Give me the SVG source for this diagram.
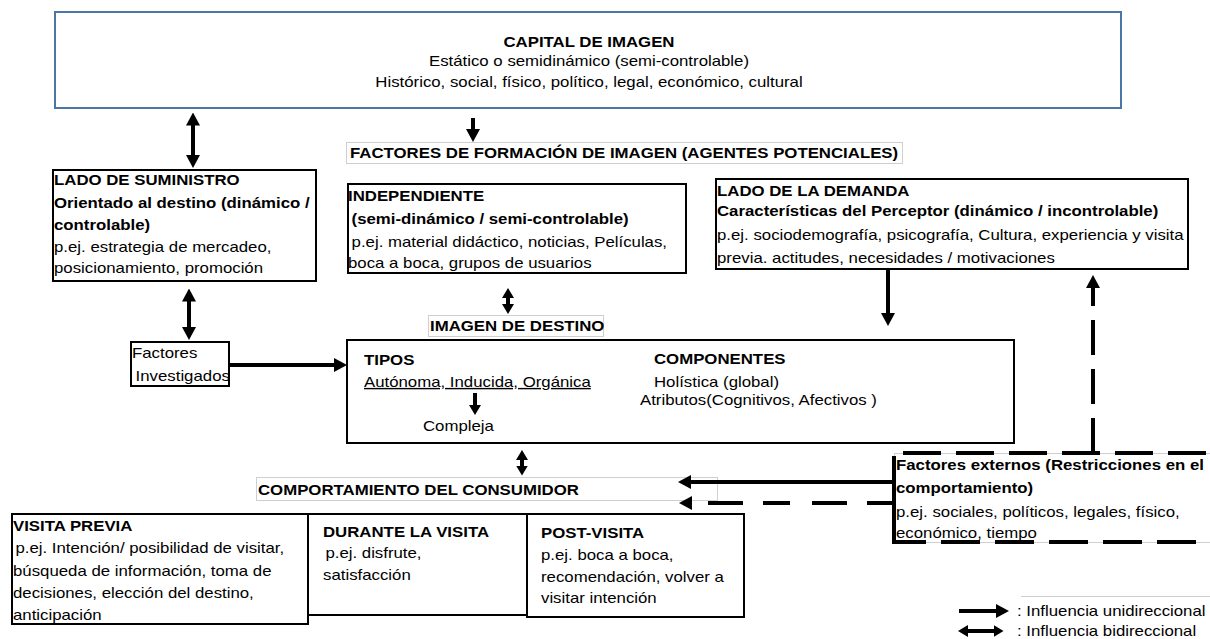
<svg xmlns="http://www.w3.org/2000/svg" width="1210" height="639" viewBox="0 0 1210 639">
  <style>
    text { font-family: "Liberation Sans", Arial, Helvetica, sans-serif; font-size: 14px; fill: #000; }
    .b { font-weight: bold; }
    .node { fill: #fff; stroke: #000; stroke-width: 2; }
    .cap { fill: #fff; stroke: #4a76a8; stroke-width: 2; }
    .lbl { fill: #fff; stroke: #cfcfcf; stroke-width: 1; }
    .ln { fill: none; stroke: #000; stroke-width: 4; }
    .thin { fill: none; stroke: #cfcfcf; stroke-width: 1; }
  </style>
  <defs>
    <marker id="ah" viewBox="0 0 13 14" refX="0.5" refY="7" markerWidth="13" markerHeight="14" markerUnits="userSpaceOnUse" orient="auto-start-reverse">
      <path d="M0,0 L13,7 L0,14 z" fill="#000" stroke="none"/>
    </marker>
    <marker id="as" viewBox="0 0 10 12" refX="0.5" refY="6" markerWidth="10" markerHeight="12" markerUnits="userSpaceOnUse" orient="auto-start-reverse">
      <path d="M0,0 L10,6 L0,12 z" fill="#000" stroke="none"/>
    </marker>
  </defs>

  <!-- image capital -->
  <g id="capital">
    <rect class="cap" x="55" y="12" width="1066" height="96"/>
    <g transform="translate(589 0) scale(1.2 1)" text-anchor="middle">
      <text class="b" x="0" y="47">CAPITAL DE IMAGEN</text>
      <text x="0" y="66">Estático o semidinámico (semi-controlable)</text>
      <text x="0" y="87">Histórico, social, físico, político, legal, económico, cultural</text>
    </g>
  </g>

  <!-- formation factors heading -->
  <g id="factores-formacion">
    <rect class="lbl" x="346.5" y="142.5" width="556" height="21"/>
    <g transform="translate(350 0) scale(1.2 1)">
      <text class="b" x="0" y="158">FACTORES DE FORMACIÓN DE IMAGEN (AGENTES POTENCIALES)</text>
    </g>
  </g>

  <!-- supply side -->
  <g id="lado-suministro">
    <rect class="node" x="53" y="170" width="263" height="111"/>
    <g transform="translate(54 0) scale(1.2 1)">
      <text class="b" x="0" y="185">LADO DE SUMINISTRO</text>
      <text class="b" x="0" y="208">Orientado al destino (dinámico /</text>
      <text class="b" x="0" y="230">controlable)</text>
      <text x="0" y="252">p.ej. estrategia de mercadeo,</text>
      <text x="0" y="273">posicionamiento, promoción</text>
    </g>
  </g>

  <!-- independent agents -->
  <g id="independiente">
    <rect class="node" x="348" y="184" width="338" height="89"/>
    <g transform="translate(348 0) scale(1.2 1)">
      <text class="b" x="0" y="201">INDEPENDIENTE</text>
      <text class="b" x="3" y="224">(semi-dinámico / semi-controlable)</text>
      <text x="3" y="247">p.ej. material didáctico, noticias, Películas,</text>
      <text x="0" y="268">boca a boca, grupos de usuarios</text>
    </g>
  </g>

  <!-- demand side -->
  <g id="lado-demanda">
    <rect class="node" x="716" y="179" width="472" height="90"/>
    <g transform="translate(717 0) scale(1.2 1)">
      <text class="b" x="0" y="196">LADO DE LA DEMANDA</text>
      <text class="b" x="0" y="216">Características del Perceptor (dinámico / incontrolable)</text>
      <text x="0" y="240">p.ej. sociodemografía, psicografía, Cultura, experiencia y visita</text>
      <text x="0" y="263">previa. actitudes, necesidades / motivaciones</text>
    </g>
  </g>

  <!-- investigated factors -->
  <g id="factores-investigados">
    <rect class="node" x="131" y="342" width="98" height="44"/>
    <g transform="translate(132 0) scale(1.2 1)">
      <text x="0" y="358">Factores</text>
      <text x="3" y="381">Investigados</text>
    </g>
  </g>

  <!-- destination image heading -->
  <g id="imagen-destino-titulo">
    <rect class="lbl" x="428.5" y="315.5" width="175" height="21"/>
    <g transform="translate(430 0) scale(1.2 1)">
      <text class="b" x="0" y="331">IMAGEN DE DESTINO</text>
    </g>
  </g>

  <!-- destination image -->
  <g id="imagen-destino">
    <rect class="node" x="347" y="340" width="667" height="103"/>
    <g transform="translate(364 0) scale(1.2 1)">
      <text class="b" x="0" y="365">TIPOS</text>
      <text x="0" y="387" text-decoration="underline">Autónoma, Inducida, Orgánica</text>
    </g>
    <g transform="translate(423 0) scale(1.2 1)">
      <text x="0" y="431">Compleja</text>
    </g>
    <g transform="translate(654 0) scale(1.2 1)">
      <text class="b" x="0" y="364">COMPONENTES</text>
      <text x="0" y="387">Holística (global)</text>
      <text x="-11.7" y="405">Atributos(Cognitivos, Afectivos )</text>
    </g>
  </g>

  <!-- consumer behaviour heading -->
  <g id="comportamiento-titulo">
    <rect class="lbl" x="256.5" y="477.5" width="461" height="23"/>
    <g transform="translate(258 0) scale(1.2 1)">
      <text class="b" x="0" y="495">COMPORTAMIENTO DEL CONSUMIDOR</text>
    </g>
  </g>

  <!-- external factors -->
  <g id="factores-externos">
    <rect class="lbl" x="894.5" y="453.5" width="330" height="89"/>
    <path class="ln" d="M903,453 H1210" stroke-dasharray="38 15"/>
    <path class="ln" d="M894,542 H1210" stroke-dasharray="39 15" stroke-dashoffset="7"/>
    <path class="ln" d="M894,456 V544"/>
    <g transform="translate(896 0) scale(1.2 1)">
      <text class="b" x="0" y="470">Factores externos (Restricciones en el</text>
      <text class="b" x="0" y="493">comportamiento)</text>
      <text x="0" y="517">p.ej. sociales, políticos, legales, físico,</text>
      <text x="0" y="538">económico, tiempo</text>
    </g>
  </g>

  <!-- visit stages -->
  <g id="visita-previa">
    <rect class="node" x="12" y="514" width="296" height="110"/>
    <g transform="translate(13 0) scale(1.2 1)">
      <text class="b" x="0" y="531">VISITA PREVIA</text>
      <text x="2" y="553">p.ej. Intención/ posibilidad de visitar,</text>
      <text x="0" y="576">búsqueda de información, toma de</text>
      <text x="0" y="598">decisiones, elección del destino,</text>
      <text x="0" y="620">anticipación</text>
    </g>
  </g>
  <g id="durante-visita">
    <rect class="node" x="308" y="514" width="219" height="101"/>
    <g transform="translate(323 0) scale(1.2 1)">
      <text class="b" x="0" y="537">DURANTE LA VISITA</text>
      <text x="2" y="558">p.ej. disfrute,</text>
      <text x="0" y="580">satisfacción</text>
    </g>
  </g>
  <g id="post-visita">
    <rect class="node" x="527" y="514" width="217" height="103"/>
    <g transform="translate(541 0) scale(1.2 1)">
      <text class="b" x="0" y="538">POST-VISITA</text>
      <text x="0" y="560">p.ej. boca a boca,</text>
      <text x="0" y="582">recomendación, volver a</text>
      <text x="0" y="603">visitar intención</text>
    </g>
  </g>

  <!-- connectors -->
  <g id="connectors">
    <path class="ln" d="M193,125 V155.5" marker-start="url(#ah)" marker-end="url(#ah)"/>
    <path class="ln" d="M473,118 V129.5" marker-end="url(#ah)"/>
    <path class="ln" d="M189,301 V327.5" marker-start="url(#ah)" marker-end="url(#ah)"/>
    <path class="ln" d="M508,297.5 V304.5" marker-start="url(#as)" marker-end="url(#as)"/>
    <path class="ln" d="M229,365 H334.5" marker-end="url(#ah)"/>
    <path class="ln" d="M888,269 V313.5" marker-end="url(#ah)"/>
    <path class="ln" d="M475,393 V405.5" stroke-width="3.5" marker-end="url(#as)"/>
    <path class="ln" d="M522,459.5 V466" marker-start="url(#as)" marker-end="url(#as)"/>
    <path class="ln" d="M894,482 H690.5" marker-end="url(#ah)"/>
    <path class="ln" d="M894,503 H691.5" stroke-dasharray="27 20 35 22" marker-end="url(#ah)"/>
    <path class="ln" d="M1093,453 V287.5" stroke-dasharray="35 14" marker-end="url(#ah)"/>
  </g>

  <!-- legend -->
  <g id="leyenda">
    <path class="thin" d="M1021,596.5 H1210"/>
    <path class="ln" d="M959,611 H996.5" marker-end="url(#ah)"/>
    <path class="ln" d="M967.5,631 H994" marker-start="url(#as)" marker-end="url(#as)"/>
    <g transform="translate(1017 0) scale(1.2 1)">
      <text x="0" y="616">: Influencia unidireccional</text>
      <text x="0" y="636">: Influencia bidireccional</text>
    </g>
  </g>
</svg>
